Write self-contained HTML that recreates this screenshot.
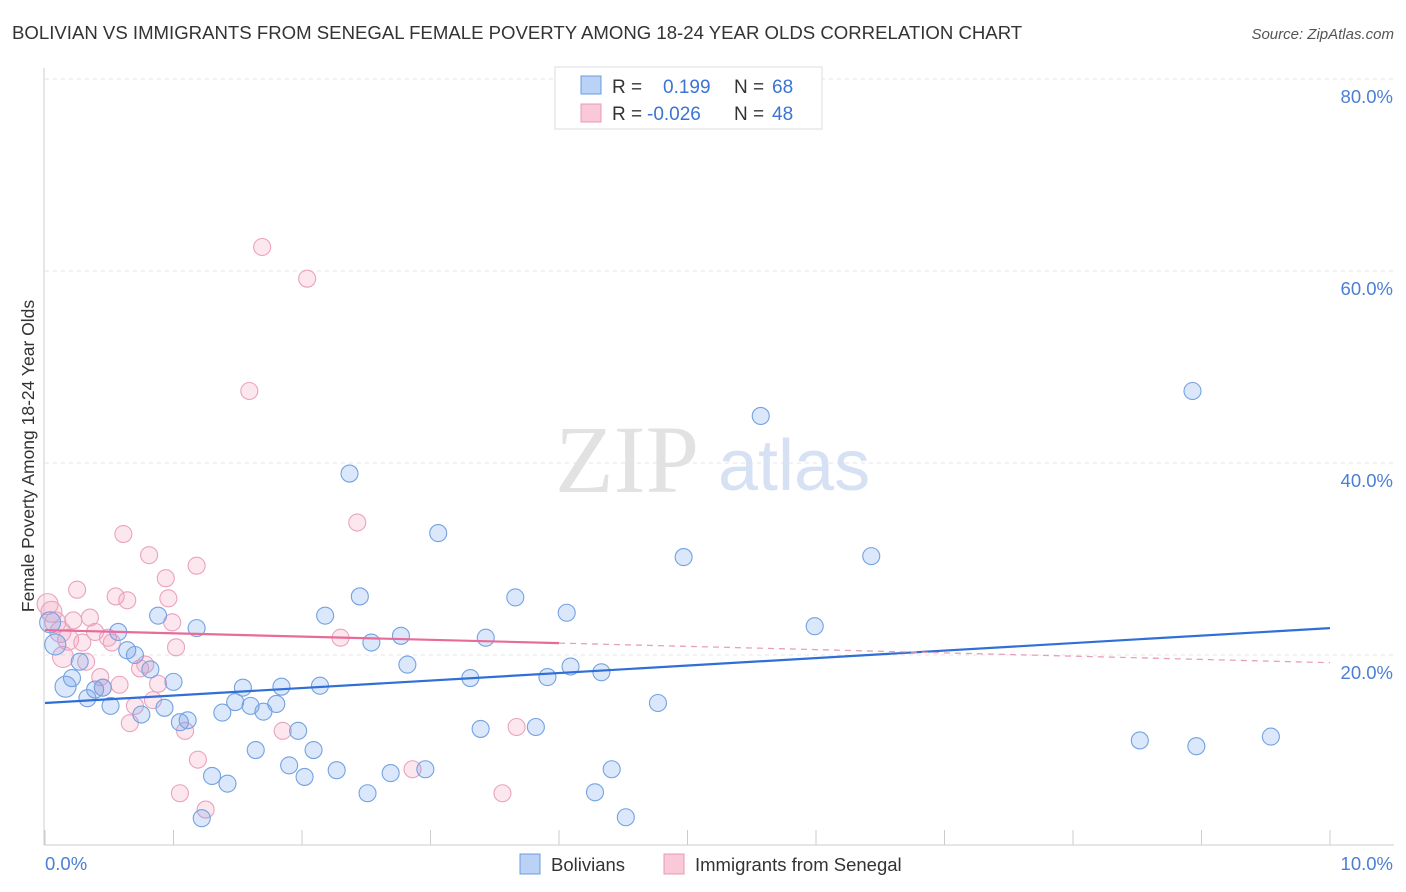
<!DOCTYPE html>
<html><head><meta charset="utf-8"><style>
body{margin:0;background:#fff;font-family:"Liberation Sans",sans-serif}
svg{display:block}
</style></head><body>
<svg id="chart" width="1406" height="892" xmlns="http://www.w3.org/2000/svg" font-family="Liberation Sans, sans-serif">
<text x="12" y="39" font-size="18.6" fill="#333">BOLIVIAN VS IMMIGRANTS FROM SENEGAL FEMALE POVERTY AMONG 18-24 YEAR OLDS CORRELATION CHART</text>
<text x="1394" y="39" font-size="15" fill="#555" text-anchor="end" font-style="italic">Source: ZipAtlas.com</text>
<g id="grid"></g>
<g>
<text x="555" y="492" font-size="96" font-family="Liberation Serif, serif" fill="#e2e2e2">ZIP</text>
<text x="718" y="490" font-size="72" fill="#d6e2f4">atlas</text>
</g>
<line x1="44" y1="68" x2="44" y2="845" stroke="#ccc"/>
<line x1="44" y1="845" x2="1394" y2="845" stroke="#ccc"/>
<g id="ticks"></g>
<g id="pinkpts"></g>
<g id="bluepts"></g>
<g id="trends"></g>
<text transform="translate(34,456) rotate(-90)" font-size="17.5" fill="#333" text-anchor="middle">Female Poverty Among 18-24 Year Olds</text>
<text x="45" y="870" font-size="18.5" fill="#4a7fd4">0.0%</text>
<text x="1393" y="870" font-size="18.5" fill="#4a7fd4" text-anchor="end">10.0%</text>
<g>
<rect x="555" y="67" width="267" height="62" fill="#fff" stroke="#ddd"/>
<rect x="581" y="76" width="20" height="18" fill="#b9d2f5" stroke="#6a9be0"/>
<rect x="581" y="104" width="20" height="18" fill="#f9c9d8" stroke="#e899b5"/>
<text x="612" y="93" font-size="19" fill="#333">R =</text>
<text x="663" y="93" font-size="19" fill="#3b74d1">0.199</text>
<text x="734" y="93" font-size="19" fill="#333">N =</text>
<text x="772" y="93" font-size="19" fill="#3b74d1">68</text>
<text x="612" y="120" font-size="19" fill="#333">R =</text>
<text x="647" y="120" font-size="19" fill="#3b74d1">-0.026</text>
<text x="734" y="120" font-size="19" fill="#333">N =</text>
<text x="772" y="120" font-size="19" fill="#3b74d1">48</text>
</g>
<g>
<rect x="520" y="854" width="20" height="20" fill="#b9d2f5" stroke="#6a9be0"/>
<text x="551" y="871" font-size="18.5" fill="#333">Bolivians</text>
<rect x="664" y="854" width="20" height="20" fill="#f9c9d8" stroke="#e899b5"/>
<text x="695" y="871" font-size="18.5" fill="#333">Immigrants from Senegal</text>
</g>
</svg>
<script>
const yTicks=[20,40,60,80];
const yTickLabels=["20.0%","40.0%","60.0%","80.0%"];
const xTicks=[0,1,2,3,4,5,6,7,8,9,10];
const blueX=[0.04,0.08,0.16,0.21,0.27,0.33,0.39,0.45,0.51,0.57,0.64,0.70,0.75,0.82,0.88,0.93,1.00,1.05,1.11,1.18,1.30,1.42,1.38,1.48,1.54,1.60,1.64,1.70,1.80,1.84,1.90,1.97,2.02,2.09,2.14,2.18,2.27,2.37,2.45,2.51,2.54,2.69,2.77,2.82,2.96,3.06,3.31,3.39,3.43,3.66,3.82,3.91,4.06,4.09,4.28,4.33,4.41,4.52,4.77,4.97,5.57,5.99,6.43,8.52,8.93,8.96,9.54,1.22];
const blueY=[23.4,21.1,16.7,17.6,19.3,15.5,16.4,16.6,14.7,22.4,20.5,20.0,13.8,18.5,24.1,14.5,17.2,13.0,13.2,22.8,7.4,6.6,14.0,15.1,16.6,14.7,10.1,14.1,14.9,16.7,8.5,12.1,7.3,10.1,16.8,24.1,8.0,38.9,26.1,5.6,21.3,7.7,22.0,19.0,8.1,32.7,17.6,12.3,21.8,26.0,12.5,17.7,24.4,18.8,5.7,18.2,8.1,3.1,15.0,30.2,44.9,23.0,30.3,11.1,47.5,10.5,11.5,3.0];
const pinkX=[0.02,0.05,0.08,0.12,0.14,0.18,0.22,0.25,0.29,0.32,0.35,0.39,0.43,0.45,0.49,0.52,0.55,0.58,0.61,0.64,0.66,0.70,0.74,0.78,0.81,0.84,0.88,0.94,0.96,0.99,1.02,1.05,1.09,1.18,1.19,1.25,1.59,1.69,1.85,2.04,2.30,2.43,2.86,3.56,3.67];
const pinkY=[25.3,24.5,23.4,22.4,19.8,21.6,23.6,26.8,21.3,19.3,23.9,22.4,17.7,16.6,21.8,21.3,26.1,16.9,32.6,25.7,12.9,14.7,18.6,19.0,30.4,15.3,17.0,28.0,25.9,23.4,20.8,5.6,12.1,29.3,9.1,3.9,47.5,62.5,12.1,59.2,21.8,33.8,8.1,5.6,12.5];
const blueTrend=[15.0,22.8];
const pinkTrend=[22.6,19.2];
const pinkSolidEnd=4.0;
const NS="http://www.w3.org/2000/svg";
const sx=v=>45+v*128.5, sy=v=>847-v*9.6;
function mk(tag,attrs,parent){const e=document.createElementNS(NS,tag);for(const k in attrs)e.setAttribute(k,attrs[k]);parent.appendChild(e);return e;}
const grid=document.getElementById('grid');
yTicks.forEach((t,i)=>{
  const l=mk('line',{x1:45,x2:1394,y1:sy(t),y2:sy(t),stroke:'#e4e4e4','stroke-dasharray':'4,4'},grid);
  
  
  const tx=mk('text',{x:1393,y:sy(t)+24,'font-size':18.5,fill:'#4a7fd4','text-anchor':'end'},grid);
  tx.textContent=yTickLabels[i];
  
  
});
const ticks=document.getElementById('ticks');
xTicks.forEach(t=>{
  const l=mk('line',{x1:sx(t),x2:sx(t),y1:830,y2:845,stroke:'#ccc'},ticks);
  
  
});
function pts(xs,ys,g,fill,stroke,name){
  xs.forEach((x,i)=>{
    const r=x<0.2?10.5:8.5;
    const c=mk('circle',{cx:sx(x),cy:sy(ys[i]),r:r,fill:fill,stroke:stroke,'stroke-width':1.1},g);
    
    
  });
}
pts(pinkX,pinkY,document.getElementById('pinkpts'),'rgba(244,160,190,0.25)','#eaa3bd','senegal-point');
pts(blueX,blueY,document.getElementById('bluepts'),'rgba(110,160,235,0.25)','#74a2e2','bolivian-point');
const tr=document.getElementById('trends');
const bl=mk('line',{x1:sx(0),y1:sy(blueTrend[0]),x2:sx(10),y2:sy(blueTrend[1]),stroke:'#2f6fd6','stroke-width':2.2},tr);


const pm=pinkTrend[0]+(pinkTrend[1]-pinkTrend[0])*pinkSolidEnd/10;
const p1=mk('line',{x1:sx(0),y1:sy(pinkTrend[0]),x2:sx(pinkSolidEnd),y2:sy(pm),stroke:'#e86b98','stroke-width':2.2},tr);


const p2=mk('line',{x1:sx(pinkSolidEnd),y1:sy(pm),x2:sx(10),y2:sy(pinkTrend[1]),stroke:'#e8a0b8','stroke-width':1.3,'stroke-dasharray':'6,5'},tr);


</script>
</body></html>
